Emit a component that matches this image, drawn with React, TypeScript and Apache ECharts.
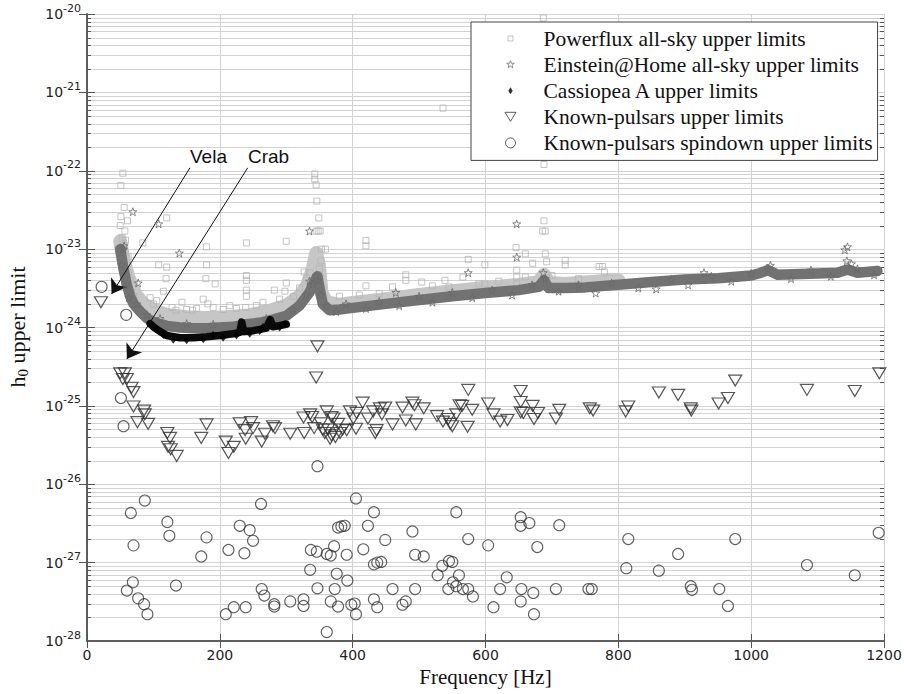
import React, { useEffect, useRef } from "react";
import * as echarts from "echarts";

// ---------- axis / tick data ----------
const X_MIN = 0;
const X_MAX = 1200;
const X_INTERVAL = 200;
const Y_MIN = 1e-28;
const Y_MAX = 1e-20;
const DECADE_EXPONENTS = [-28, -27, -26, -25, -24, -23, -22, -21, -20];
const MINOR_DECADES = [-28, -27, -26, -25, -24, -23, -22, -21];
const MINOR_MANTISSAS = [2, 3, 4, 5, 6, 7, 8, 9];

// ---------- series data: [frequency Hz, h0] ----------
const POWERFLUX_BAND = [
  [50, 1.26e-23], [53, 8.9e-24], [57, 6.3e-24], [62, 4.5e-24], [68, 3.2e-24], [75, 2.5e-24],
  [85, 2.0e-24], [100, 1.66e-24], [120, 1.45e-24], [150, 1.35e-24], [180, 1.32e-24], [210, 1.35e-24],
  [240, 1.41e-24], [270, 1.58e-24], [300, 1.9e-24], [320, 2.5e-24], [332, 3.5e-24], [340, 5.6e-24],
  [345, 8.9e-24], [349, 6.3e-24], [353, 2.8e-24], [360, 2.1e-24], [380, 1.95e-24], [400, 2.05e-24],
  [450, 2.3e-24], [500, 2.6e-24], [550, 2.9e-24], [600, 3.2e-24], [650, 3.5e-24], [680, 3.8e-24],
  [688, 4.7e-24], [696, 3.7e-24], [720, 3.6e-24], [760, 3.8e-24], [800, 4.0e-24],
];

const POWERFLUX_POINTS = [
  [687, 8.9e-21], [536, 6.3e-22], [688, 1.2e-22],
  [54, 9.3e-23], [51, 6.5e-23], [56, 3.4e-23], [51, 2.6e-23], [61, 2.3e-23], [50, 2.0e-23],
  [57, 1.7e-23], [53, 1.4e-23], [55, 1.1e-23], [58, 8.9e-24], [52, 7.9e-24], [60, 6.3e-24],
  [62, 5.0e-24], [65, 4.0e-24], [64, 3.2e-24], [67, 2.8e-24], [70, 2.5e-24], [72, 2.2e-24],
  [56, 6.0e-24], [59, 4.5e-24], [53, 1.0e-23], [58, 1.3e-23], [62, 8.0e-24],
  [120, 2.5e-23], [84, 1.2e-23], [180, 1.07e-23], [180, 6.3e-24], [240, 1.2e-23], [300, 1.26e-23],
  [108, 6.3e-24], [120, 5.9e-24], [119, 4.2e-24], [179, 4.2e-24], [193, 3.6e-24], [240, 4.6e-24],
  [240, 4.0e-24], [240, 3.0e-24], [300, 3.7e-24], [282, 3.0e-24],
  [143, 2.1e-24], [134, 1.66e-24], [159, 1.66e-24], [175, 2.3e-24], [182, 2.0e-24], [190, 1.8e-24],
  [239, 1.8e-24], [298, 2.9e-24], [311, 2.5e-24], [115, 2.9e-24], [105, 2.2e-24], [240, 2.5e-24],
  [95, 2.4e-24], [100, 2.0e-24], [128, 1.8e-24], [150, 1.7e-24], [165, 1.75e-24], [205, 1.7e-24],
  [215, 1.9e-24], [225, 1.75e-24], [255, 1.9e-24], [265, 2.1e-24], [290, 2.3e-24], [320, 3.2e-24],
  [330, 4.0e-24], [336, 5.0e-24],
  [343, 9.1e-23], [343, 7.8e-23], [345, 6.6e-23], [346, 4.1e-23], [349, 2.5e-23], [345, 1.7e-23],
  [348, 1.7e-23], [351, 1.7e-23], [353, 1.0e-23], [359, 1.0e-23], [352, 7.1e-24], [350, 5.6e-24],
  [351, 4.5e-24], [327, 5.1e-24],
  [420, 1.29e-23], [420, 1.1e-23], [420, 3.4e-24], [480, 4.7e-24], [480, 4.0e-24], [504, 3.8e-24],
  [539, 4.0e-24], [566, 4.4e-24], [574, 7.4e-24], [599, 6.3e-24], [599, 3.6e-24],
  [380, 2.5e-24], [410, 2.6e-24], [440, 2.7e-24], [460, 3.3e-24], [520, 3.4e-24], [545, 3.3e-24],
  [590, 3.6e-24], [620, 3.9e-24], [660, 4.4e-24], [700, 4.6e-24], [740, 4.2e-24],
  [646, 1.05e-23], [647, 5.4e-24], [647, 4.4e-24], [647, 3.6e-24], [660, 8.7e-24], [671, 6.6e-24],
  [688, 2.3e-23], [686, 1.7e-23], [690, 1.7e-23], [690, 8.7e-24], [692, 6.9e-24], [720, 7.2e-24],
  [720, 6.3e-24], [692, 4.3e-24], [776, 6.0e-24], [779, 5.1e-24], [771, 6.0e-24],
];

const EAH_BAND = [
  [50, 1.0e-23], [55, 5.6e-24], [60, 3.5e-24], [65, 2.5e-24], [70, 2.0e-24], [80, 1.6e-24],
  [90, 1.32e-24], [100, 1.17e-24], [120, 1.05e-24], [140, 1.0e-24], [160, 9.8e-25], [180, 9.8e-25],
  [200, 1.0e-24], [220, 1.02e-24], [240, 1.1e-24], [260, 1.15e-24], [280, 1.26e-24], [300, 1.41e-24],
  [320, 1.9e-24], [335, 2.8e-24], [342, 3.8e-24], [347, 4.5e-24], [350, 3.2e-24], [355, 2.0e-24],
  [365, 1.66e-24], [380, 1.7e-24], [400, 1.78e-24], [450, 2.0e-24], [500, 2.24e-24], [550, 2.5e-24],
  [600, 2.75e-24], [650, 3.0e-24], [680, 3.3e-24], [688, 4.0e-24], [695, 3.2e-24], [720, 3.2e-24],
  [750, 3.25e-24], [800, 3.5e-24], [850, 3.8e-24], [900, 4.1e-24], [950, 4.25e-24], [1000, 4.6e-24],
  [1015, 5.0e-24], [1025, 5.4e-24], [1040, 4.7e-24], [1100, 4.9e-24], [1130, 5.0e-24], [1145, 5.5e-24],
  [1160, 5.0e-24], [1190, 5.25e-24],
];

const EAH_POINTS = [
  [69, 3.0e-23], [108, 2.1e-23], [139, 8.9e-24], [335, 1.7e-23], [335, 3.9e-24], [465, 2.8e-24],
  [574, 5.0e-24], [647, 2.1e-23], [647, 7.9e-24], [687, 5.0e-24], [929, 5.0e-24], [1029, 6.2e-24],
  [1141, 9.8e-24], [1145, 1.07e-23], [1144, 7.1e-24], [1151, 6.5e-24], [55, 1.0e-23], [56, 1.1e-23],
  [52, 6.3e-24], [58, 3.5e-24], [63, 2.4e-24], [77, 3.7e-24],
  [75, 2.0e-24], [90, 1.45e-24], [110, 1.3e-24], [150, 1.12e-24], [190, 1.1e-24], [230, 1.15e-24],
  [270, 1.3e-24], [310, 1.7e-24], [330, 2.6e-24], [340, 3.6e-24], [345, 4.6e-24], [348, 4.0e-24],
  [352, 2.6e-24], [360, 1.9e-24], [375, 1.6e-24], [390, 2.0e-24], [420, 1.75e-24], [440, 2.15e-24],
  [470, 1.9e-24], [500, 2.5e-24], [520, 2.1e-24], [550, 2.8e-24], [580, 2.4e-24], [610, 3.0e-24],
  [640, 2.6e-24], [670, 3.5e-24], [690, 4.2e-24], [710, 2.9e-24], [740, 3.5e-24], [766, 2.75e-24],
  [790, 3.7e-24], [830, 3.2e-24], [857, 3.1e-24], [880, 4.1e-24], [905, 3.5e-24], [940, 4.5e-24],
  [970, 3.9e-24], [1000, 4.9e-24], [1025, 5.6e-24], [1060, 4.2e-24], [1090, 5.4e-24], [1120, 4.5e-24],
  [1160, 5.6e-24], [1185, 4.7e-24],
];

const CASA_BAND = [
  [95, 1.12e-24], [100, 1.02e-24], [110, 8.9e-25], [120, 7.9e-25], [140, 7.4e-25], [160, 7.4e-25],
  [180, 7.6e-25], [200, 7.9e-25], [220, 8.3e-25], [230, 8.7e-25], [233, 1.17e-24], [236, 8.9e-25],
  [250, 9.1e-25], [270, 9.8e-25], [276, 1.26e-24], [280, 1.02e-24], [300, 1.1e-24],
];

const CASA_POINTS = [
  [105, 9.5e-25], [115, 8.0e-25], [130, 7.0e-25], [150, 6.9e-25], [175, 7.1e-25], [190, 8.1e-25],
  [205, 7.4e-25], [225, 7.9e-25], [245, 8.3e-25], [260, 9.0e-25], [265, 1.02e-24], [290, 1.0e-24],
  [298, 1.12e-24],
];

const PULSAR_UL = [
  [21, 2.1e-24], [50, 2.6e-25], [57, 2.6e-25], [54, 2.2e-25], [60, 2.2e-25], [67, 1.7e-25],
  [70, 1.5e-25], [70, 9.8e-26], [86, 8.7e-26], [87, 7.8e-26], [76, 6.2e-26], [92, 5.9e-26],
  [121, 4.5e-26], [125, 3.9e-26], [122, 3.0e-26], [126, 2.8e-26], [135, 2.3e-26], [172, 3.9e-26],
  [180, 5.8e-26], [209, 3.5e-26], [221, 3.0e-26], [213, 2.5e-26], [230, 6.0e-26], [238, 4.9e-26],
  [239, 3.8e-26], [247, 6.2e-26], [250, 5.2e-26], [263, 3.5e-26], [268, 4.4e-26], [280, 5.5e-26],
  [283, 5.2e-26], [306, 4.4e-26], [327, 4.5e-26], [326, 7.1e-26], [336, 7.8e-26], [339, 7.2e-26],
  [347, 5.75e-25], [345, 2.3e-25], [361, 8.5e-26], [368, 7.2e-26], [363, 5.0e-26], [368, 4.2e-26],
  [371, 6.9e-26], [378, 5.9e-26], [381, 4.5e-26], [391, 4.9e-26], [396, 8.5e-26], [401, 6.9e-26],
  [406, 8.1e-26], [405, 5.1e-26], [415, 1.1e-25], [423, 6.9e-26], [431, 8.5e-26], [434, 4.5e-26],
  [436, 4.9e-26], [441, 9.3e-26], [449, 9.5e-26], [444, 7.8e-26], [460, 5.8e-26], [475, 9.5e-26],
  [480, 6.5e-26], [490, 1.1e-25], [493, 1.02e-25], [495, 5.8e-26], [507, 9.3e-26], [527, 7.4e-26],
  [536, 6.3e-26], [544, 6.8e-26], [547, 5.9e-26], [550, 5.5e-26], [556, 7.8e-26], [561, 1.02e-25],
  [565, 1.0e-25], [574, 1.6e-25], [573, 5.4e-26], [580, 8.9e-26], [604, 1.07e-25], [612, 7.8e-26],
  [622, 6.3e-26], [633, 6.6e-26], [653, 1.55e-25], [653, 1.12e-25], [653, 8.3e-26], [657, 8.1e-26],
  [671, 1.0e-25], [673, 6.8e-26], [679, 8.1e-26], [706, 6.9e-26], [711, 8.9e-26], [757, 9.3e-26],
  [762, 8.7e-26], [815, 9.8e-26], [811, 8.5e-26], [861, 1.48e-25], [890, 1.38e-25], [909, 9.3e-26],
  [910, 8.7e-26], [951, 1.07e-25], [965, 1.26e-25], [976, 2.1e-25], [1084, 1.6e-25], [1156, 1.55e-25],
  [1193, 2.6e-25], [352, 6.0e-26], [355, 5.0e-26], [358, 4.5e-26], [342, 5.2e-26], [374, 4.0e-26],
  [385, 5.0e-26], [366, 3.8e-26],
];

const PULSAR_SD = [
  [22, 3.3e-24], [59, 1.45e-24], [51, 1.26e-25], [55, 5.5e-26], [347, 1.7e-26], [87, 6.2e-27],
  [66, 4.3e-27], [121, 3.3e-27], [124, 2.2e-27], [70, 1.66e-27], [180, 2.1e-27], [172, 1.2e-27],
  [262, 5.6e-27], [230, 2.95e-27], [245, 2.6e-27], [250, 1.9e-27], [213, 1.45e-27], [237, 1.32e-27],
  [69, 5.6e-28], [60, 4.4e-28], [77, 3.5e-28], [86, 2.95e-28], [91, 2.2e-28], [134, 5.1e-28],
  [209, 2.2e-28], [221, 2.7e-28], [239, 2.7e-28], [263, 4.6e-28], [267, 3.8e-28], [282, 2.95e-28],
  [282, 2.75e-28], [306, 3.2e-28], [326, 3.4e-28], [326, 2.8e-28], [337, 1.45e-27], [346, 1.38e-27],
  [336, 8.1e-28], [347, 4.7e-28], [361, 1.29e-27], [367, 1.23e-27], [372, 1.62e-27], [378, 2.8e-27],
  [383, 2.9e-27], [388, 2.95e-27], [391, 1.26e-27], [376, 7.2e-28], [392, 5.9e-28], [373, 4.6e-28],
  [367, 3.2e-28], [378, 2.75e-28], [361, 1.3e-28], [398, 2.9e-28], [403, 3.0e-28], [405, 2.2e-28],
  [405, 6.6e-27], [416, 1.48e-27], [423, 2.95e-27], [432, 4.4e-27], [432, 9.5e-28], [437, 1.0e-27],
  [443, 1.02e-27], [432, 3.4e-28], [437, 2.7e-28], [449, 1.95e-27], [460, 4.6e-28], [475, 2.9e-28],
  [480, 3.2e-28], [490, 2.5e-27], [494, 1.26e-27], [494, 4.6e-28], [507, 1.2e-27], [528, 6.9e-28],
  [535, 9.1e-28], [544, 4.6e-28], [545, 1.05e-27], [550, 1.02e-27], [551, 5.6e-28], [556, 4.4e-27],
  [556, 5.0e-28], [560, 6.9e-28], [566, 4.6e-28], [574, 2.0e-27], [574, 4.6e-28], [581, 3.7e-28],
  [604, 1.66e-27], [612, 2.7e-28], [622, 4.6e-28], [632, 6.5e-28], [653, 3.8e-27], [653, 2.95e-27],
  [666, 3.2e-27], [654, 4.6e-28], [653, 3.2e-28], [672, 4.1e-28], [673, 2.2e-28], [678, 1.58e-27],
  [711, 3.0e-27], [706, 4.6e-28], [755, 4.6e-28], [760, 4.6e-28], [815, 2.0e-27], [812, 8.5e-28],
  [861, 7.9e-28], [890, 1.29e-27], [909, 5.0e-28], [911, 4.5e-28], [952, 4.6e-28], [965, 2.8e-28],
  [976, 2.0e-27], [1084, 9.3e-28], [1156, 6.9e-28], [1192, 2.4e-27],
];

// annotation arrows: [start, end] in data coordinates
const VELA_ARROW = [[155, 1.09e-22], [37, 2.67e-24]];
const CRAB_ARROW = [[242, 1.09e-22], [60, 3.96e-25]];

const NAMES = [
  "Powerflux all-sky upper limits",
  "Einstein@Home all-sky upper limits",
  "Cassiopea A upper limits",
  "Known-pulsars upper limits",
  "Known-pulsars spindown upper limits",
];

const STAR =
  "path://M7,3L7.94,5.71L10.8,5.76L8.52,7.49L9.35,10.24L7,8.6L4.65,10.24L5.48,7.49L3.2,5.76L6.06,5.71Z";
const TRI_DOWN = "path://M0,0L12,0L6,10Z";

const LEG_BOX = "M0,0M35,14";
const LEG_ICONS = [
  "path://" + LEG_BOX + "M4.5,4.5L9.5,4.5L9.5,9.5L4.5,9.5Z",
  "path://" + LEG_BOX + "M7,3L7.94,5.71L10.8,5.76L8.52,7.49L9.35,10.24L7,8.6L4.65,10.24L5.48,7.49L3.2,5.76L6.06,5.71Z",
  "path://" + LEG_BOX + "M7,3.5L9.2,7L7,10.5L4.8,7Z",
  "path://" + LEG_BOX + "M1.5,2.5L12.5,2.5L7,11.5Z",
  "path://" + LEG_BOX + "M12,7A5,5,0,1,1,2,7A5,5,0,1,1,12,7Z",
];

const AXIS_COLOR = "#555";
const GRID_COLOR = "#d2d2d2";
const LABEL_RICH = {
  b: { fontFamily: "DejaVu Sans", fontSize: 14, lineHeight: 14, fill: "#222", verticalAlign: "middle" },
  e: { fontFamily: "DejaVu Sans", fontSize: 11, lineHeight: 11, padding: [0, 0, 12, 0], fill: "#222" },
};

export default function App() {
  const ref = useRef<HTMLDivElement>(null);

  useEffect(() => {
    if (!ref.current) return;
    const chart = echarts.init(ref.current, undefined, { renderer: "svg", width: 904, height: 694 });

    const minorTicks: number[][] = [];
    MINOR_DECADES.forEach((d) => {
      MINOR_MANTISSAS.forEach((m) => {
        minorTicks.push([X_MIN, m * Math.pow(10, d)]);
      });
    });
    const decadeTicks = DECADE_EXPONENTS.map((e) => [X_MIN, Math.pow(10, e), e]);

    const hollow = (stroke: string, w: number) => ({
      color: "rgba(0,0,0,0)",
      borderColor: stroke,
      borderWidth: w,
    });

    const option: any = {
      animation: false,
      backgroundColor: "#fff",
      grid: {
        left: 87,
        right: 20,
        top: 14,
        bottom: 53,
        containLabel: false,
        outerBoundsMode: "none",
      },
      legend: {
        orient: "vertical",
        left: 471,
        top: 22,
        padding: [5.5, 5, 6.5, 32],
        itemWidth: 35,
        itemHeight: 14,
        itemGap: 4.1,
        backgroundColor: "#fff",
        borderColor: "#444",
        borderWidth: 1,
        borderRadius: 0,
        selectedMode: false,
        z: 20,
        textStyle: {
          fontFamily: "Liberation Serif",
          fontSize: 21.5,
          lineHeight: 21,
          color: "#111",
        },
        data: [
          { name: NAMES[0], icon: LEG_ICONS[0], itemStyle: hollow("#b5b5b5", 1) },
          { name: NAMES[1], icon: LEG_ICONS[1], itemStyle: hollow("#777", 1) },
          { name: NAMES[2], icon: LEG_ICONS[2], itemStyle: { color: "#000", borderWidth: 0 } },
          { name: NAMES[3], icon: LEG_ICONS[3], itemStyle: hollow("#333", 1) },
          { name: NAMES[4], icon: LEG_ICONS[4], itemStyle: hollow("#333", 1) },
        ],
      },
      xAxis: [
        {
          type: "value",
          gridIndex: 0,
          min: X_MIN,
          max: X_MAX,
          interval: X_INTERVAL,
          name: "Frequency [Hz]",
          nameLocation: "middle",
          nameGap: 24,
          nameTextStyle: { fontFamily: "Liberation Serif", fontSize: 21, color: "#111" },
          axisLine: { show: true, lineStyle: { color: AXIS_COLOR, width: 1.5 } },
          axisTick: { show: true, inside: true, length: 7, lineStyle: { color: AXIS_COLOR } },
          axisLabel: {
            fontFamily: "DejaVu Sans",
            fontSize: 14,
            color: "#222",
            margin: 7,
            hideOverlap: false,
            formatter: (v: number) => String(v),
          },
          splitLine: { show: true, lineStyle: { color: GRID_COLOR, width: 1 } },
        },
        {
          type: "value",
          gridIndex: 0,
          position: "top",
          min: X_MIN,
          max: X_MAX,
          interval: X_INTERVAL,
          axisLine: { show: true, lineStyle: { color: AXIS_COLOR, width: 1.5 } },
          axisTick: { show: true, inside: true, length: 7, lineStyle: { color: AXIS_COLOR } },
          axisLabel: { show: false },
          splitLine: { show: false },
        },
      ],
      yAxis: [
        {
          type: "log",
          gridIndex: 0,
          logBase: 10,
          min: Y_MIN,
          max: Y_MAX,
          splitNumber: 8,
          axisLine: { show: true, lineStyle: { color: AXIS_COLOR, width: 1.5 } },
          axisTick: { show: true, inside: true, length: 8, lineStyle: { color: AXIS_COLOR } },
          axisLabel: { show: false },
          splitLine: { show: true, lineStyle: { color: GRID_COLOR, width: 1 } },
        },
        {
          type: "log",
          gridIndex: 0,
          logBase: 10,
          min: Y_MIN,
          max: Y_MAX,
          splitNumber: 8,
          position: "right",
          axisLine: { show: true, lineStyle: { color: AXIS_COLOR, width: 1.5 } },
          axisTick: { show: true, inside: true, length: 8, lineStyle: { color: AXIS_COLOR } },
          axisLabel: { show: false },
          splitLine: { show: false },
        },
      ],
      graphic: [
        {
          type: "text",
          x: 17,
          y: 327,
          rotation: Math.PI / 2,
          z: 30,
          style: {
            text: "{a|h}{s|0}{a| upper limit}",
            align: "center",
            verticalAlign: "middle",
            fill: "#111",
            rich: {
              a: { fontFamily: "Liberation Serif", fontSize: 22, lineHeight: 22, fill: "#111", verticalAlign: "middle" },
              s: { fontFamily: "Liberation Serif", fontSize: 15, lineHeight: 15, padding: [12, 0, 0, 0], fill: "#111" },
            },
          },
        },
        {
          type: "text",
          left: 190,
          top: 147,
          z: 30,
          style: { text: "Vela", font: '19px "Liberation Sans"', fill: "#111" },
        },
        {
          type: "text",
          left: 248,
          top: 147,
          z: 30,
          style: { text: "Crab", font: '19px "Liberation Sans"', fill: "#111" },
        },
      ],
      series: [
        {
          name: "minorGrid",
          type: "custom",
          coordinateSystem: "cartesian2d",
          xAxisIndex: 0,
          yAxisIndex: 0,
          silent: true,
          z: 1,
          data: minorTicks,
          encode: { x: 0, y: 1 },
          renderItem: (_params: any, api: any) => {
            const v = api.value(1);
            const p0 = api.coord([X_MIN, v]);
            const p1 = api.coord([X_MAX, v]);
            const y = Math.round(p0[1]) + 0.5;
            return {
              type: "group",
              children: [
                {
                  type: "line",
                  shape: { x1: p0[0], y1: y, x2: p1[0], y2: y },
                  style: { stroke: GRID_COLOR, lineWidth: 1 },
                },
                {
                  type: "line",
                  shape: { x1: p0[0], y1: y, x2: p0[0] + 4, y2: y },
                  style: { stroke: AXIS_COLOR, lineWidth: 1 },
                },
                {
                  type: "line",
                  shape: { x1: p1[0] - 4, y1: y, x2: p1[0], y2: y },
                  style: { stroke: AXIS_COLOR, lineWidth: 1 },
                },
              ],
            };
          },
        },
        {
          name: "decadeLabels",
          type: "custom",
          coordinateSystem: "cartesian2d",
          xAxisIndex: 0,
          yAxisIndex: 0,
          silent: true,
          clip: false,
          z: 10,
          data: decadeTicks,
          encode: { x: 0, y: 1 },
          renderItem: (_params: any, api: any) => {
            const v = api.value(1);
            const e = api.value(2);
            const p = api.coord([X_MIN, v]);
            return {
              type: "text",
              x: p[0] - 6,
              y: p[1],
              style: {
                text: `{b|10}{e|${e}}`,
                align: "right",
                verticalAlign: "middle",
                rich: LABEL_RICH,
              },
            };
          },
        },
        {
          name: "powerfluxBand",
          type: "line",
          data: POWERFLUX_BAND,
          symbol: "none",
          showSymbol: false,
          silent: true,
          z: 2,
          lineStyle: { color: "#c6c6c6", width: 14, cap: "round", join: "round" },
        },
        {
          name: NAMES[0],
          type: "scatter",
          data: POWERFLUX_POINTS,
          symbol: "rect",
          symbolSize: 6,
          silent: true,
          z: 3,
          itemStyle: hollow("#b5b5b5", 1),
        },
        {
          name: "eahBand",
          type: "line",
          data: EAH_BAND,
          symbol: "none",
          showSymbol: false,
          silent: true,
          z: 4,
          lineStyle: { color: "#727272", width: 10.5, cap: "round", join: "round" },
        },
        {
          name: NAMES[1],
          type: "scatter",
          data: EAH_POINTS,
          symbol: STAR,
          symbolSize: 8,
          silent: true,
          z: 5,
          itemStyle: hollow("#6a6a6a", 1),
        },
        {
          name: "casaBand",
          type: "line",
          data: CASA_BAND,
          symbol: "none",
          showSymbol: false,
          silent: true,
          z: 6,
          lineStyle: { color: "#0a0a0a", width: 7.5, cap: "round", join: "round" },
        },
        {
          name: NAMES[2],
          type: "scatter",
          data: CASA_POINTS,
          symbol: "diamond",
          symbolSize: [6, 8],
          silent: true,
          z: 7,
          itemStyle: { color: "#000" },
        },
        {
          name: NAMES[3],
          type: "scatter",
          data: PULSAR_UL,
          symbol: TRI_DOWN,
          symbolSize: [13, 11],
          silent: true,
          z: 8,
          itemStyle: hollow("#2e2e2e", 1.2),
          markLine: {
            silent: true,
            symbol: ["none", "arrow"],
            symbolSize: 14,
            label: { show: false },
            lineStyle: { color: "#111", width: 1, type: "solid" },
            itemStyle: { color: "#111" },
            data: [
              [{ coord: VELA_ARROW[0] }, { coord: VELA_ARROW[1] }],
              [{ coord: CRAB_ARROW[0] }, { coord: CRAB_ARROW[1] }],
            ],
          },
        },
        {
          name: NAMES[4],
          type: "scatter",
          data: PULSAR_SD,
          symbol: "circle",
          symbolSize: 11,
          silent: true,
          z: 9,
          itemStyle: hollow("#3a3a3a", 1.1),
        },
      ],
    };

    chart.setOption(option);
    return () => chart.dispose();
  }, []);

  return (
    <div
      ref={ref}
      style={{ position: "fixed", left: 0, top: 0, width: 904, height: 694, background: "#fff" }}
    />
  );
}
